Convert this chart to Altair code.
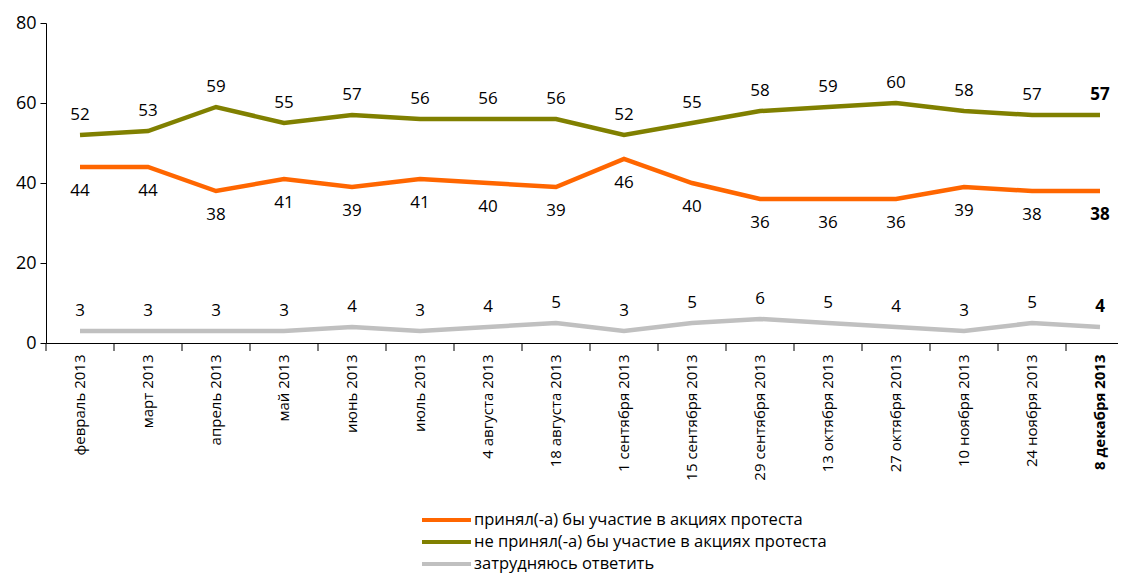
import altair as alt
import pandas as pd

categories = ["февраль 2013", "март 2013", "апрель 2013", "май 2013", "июнь 2013",
              "июль 2013", "4 августа 2013", "18 августа 2013", "1 сентября 2013",
              "15 сентября 2013", "29 сентября 2013", "13 октября 2013",
              "27 октября 2013", "10 ноября 2013", "24 ноября 2013", "8 декабря 2013"]
series_names = ["принял(-а) бы участие в акциях протеста",
                "не принял(-а) бы участие в акциях протеста",
                "затрудняюсь ответить"]
yes_values = [44, 44, 38, 41, 39, 41, 40, 39, 46, 40, 36, 36, 36, 39, 38, 38]
no_values = [52, 53, 59, 55, 57, 56, 56, 56, 52, 55, 58, 59, 60, 58, 57, 57]
dk_values = [3, 3, 3, 3, 4, 3, 4, 5, 3, 5, 6, 5, 4, 3, 5, 4]
colors = ["#FF6600", "#808000", "#C0C0C0"]
y_ticks = [0, 20, 40, 60, 80]

rows = []
for name, vals in zip(series_names, [yes_values, no_values, dk_values]):
    for c, v in zip(categories, vals):
        rows.append({"cat": c, "series": name, "value": v})
df = pd.DataFrame(rows)
cat_df = pd.DataFrame({"cat": categories})

FONT = "Open Sans"
last = categories[-1]

x_scale = alt.Scale(type="band", range=[0, 1088], paddingInner=0, paddingOuter=0)
x_axis = alt.Axis(title=None, labelAngle=-90, labelFontSize=15, labelFont=FONT,
                  labelColor="black", ticks=False, domainColor="black",
                  domainWidth=1, labelPadding=11,
                  labelFontWeight=alt.condition(f"datum.value == '{last}'",
                                                alt.value("bold"), alt.value("normal")))
x_enc = alt.X("cat:N", sort=categories, scale=x_scale, axis=x_axis)
y_enc = alt.Y("value:Q", scale=alt.Scale(domain=[0, 80]),
              axis=alt.Axis(values=y_ticks, grid=False, title=None, tickSize=6,
                            tickColor="black", domainColor="black",
                            labelFontSize=18, labelFont=FONT, labelColor="black",
                            labelPadding=4))

color_enc = alt.Color("series:N",
                      scale=alt.Scale(domain=series_names, range=colors),
                      sort=series_names,
                      legend=alt.Legend(title=None, orient="none", legendX=374, legendY=486,
                                        symbolType="stroke", symbolSize=2401,
                                        symbolStrokeWidth=4, labelFontSize=16.5,
                                        labelFont=FONT, labelColor="black",
                                        clipHeight=22, rowPadding=0, labelOffset=1,
                                        padding=0, labelLimit=600))

lines = alt.Chart(df).mark_line(strokeWidth=4.5).encode(
    x=x_enc, y=y_enc, color=color_enc, detail="series:N")

ticks = alt.Chart(cat_df).mark_rule(color="black", strokeWidth=1).encode(
    x=alt.X("cat:N", sort=categories, bandPosition=0),
    y=alt.value(320), y2=alt.value(328))

texts = []
for name, dy in zip(series_names, [24, -20, -20]):
    for is_last in (False, True):
        pred = (alt.datum.cat == last) if is_last else (alt.datum.cat != last)
        t = alt.Chart(df).transform_filter(alt.datum.series == name).transform_filter(pred).mark_text(
            dy=dy, fontSize=17, font=FONT, color="black",
            fontWeight="bold" if is_last else "normal").encode(
            x=alt.X("cat:N", sort=categories),
            y=alt.Y("value:Q"),
            text="value:Q")
        texts.append(t)

chart = alt.layer(lines, ticks, *texts).properties(
    width=1072, height=320,
    autosize=alt.AutoSizeParams(type="none"),
    padding={"left": 38, "top": 15, "right": 0, "bottom": 234},
).configure_view(stroke=None)

chart.save("out.html", embed_options={"renderer": "svg", "actions": False})
